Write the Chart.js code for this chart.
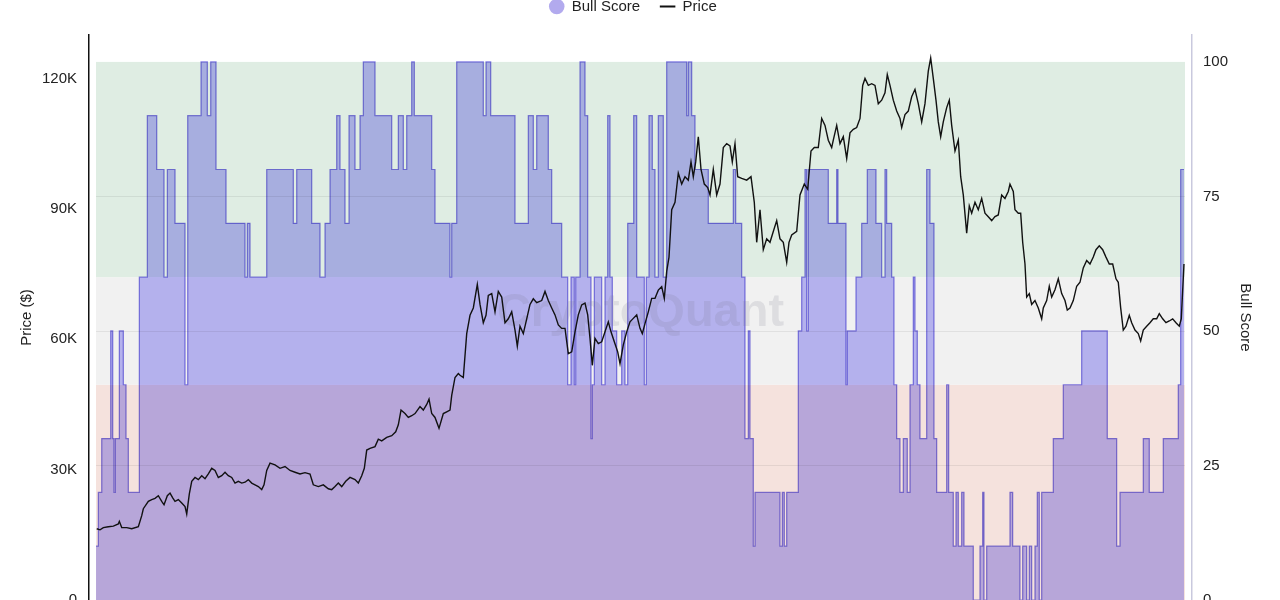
<!DOCTYPE html>
<html>
<head>
<meta charset="utf-8">
<title>Bull Score vs Price</title>
<script src="https://cdn.jsdelivr.net/npm/chart.js@4.4.1/dist/chart.umd.min.js"></script>
<style>
    html, body { margin: 0; padding: 0; background: #fff; overflow: hidden; }
    #wrap { position: absolute; left: 0; top: -21px; width: 1280px; height: 642px; }
</style>
</head>
<body>
<div id="wrap"><canvas id="chart"></canvas></div>
<script>
// Day index (0 = first day shown) and BTC price in thousands of dollars
const pricePts = [
    [0.7, 16.4], [4, 16.15], [7.3, 16.66], [12.3, 16.85], [17.3, 17.0], [22.3, 17.5], [23.3, 18.1],
    [25.7, 16.66], [30.7, 16.66], [35.7, 16.4], [42.3, 16.85], [45.7, 19.4], [47.3, 21.0], [52.3, 22.7],
    [55.7, 23.1], [59, 23.4], [62.3, 24.0], [65.7, 22.7], [68, 21.9], [71.3, 24.0], [74, 24.6],
    [76.7, 23.5], [79, 22.7], [82.3, 23.1], [85.7, 22.3], [89, 21.5], [90.7, 19.8], [93.3, 24.4],
    [95.7, 27.3], [99, 28.2], [102.3, 27.7], [105.7, 28.6], [109, 27.9], [112.3, 29.0], [115.7, 30.3],
    [119, 29.8], [122.3, 28.2], [125.7, 28.6], [129, 29.4], [132.3, 28.6], [135.7, 28.2], [139, 26.9],
    [142.3, 27.3], [145.7, 26.9], [149, 27.1], [152.3, 27.7], [155.7, 26.9], [159, 26.5], [162.3, 26.1],
    [165.7, 25.4], [168, 26.5], [170.7, 29.8], [174, 31.5],
    [179, 31.1], [184, 30.3], [189, 30.7], [194, 29.8], [199, 29.4], [204, 29.0], [209, 29.3],
    [214, 29.0], [217.3, 26.5], [222.3, 26.1], [227.3, 26.5], [232.3, 25.6], [235.7, 25.4], [239, 26.1],
    [242.3, 26.9], [245.7, 26.1], [249.7, 27.3], [254, 28.2], [259, 27.7], [262.3, 26.9], [265.7, 28.6],
    [268.3, 30.3], [270.7, 34.5], [274, 34.9], [279, 35.3], [282.3, 37.0], [285.7, 36.6], [290.7, 37.4],
    [295.7, 37.8], [299.7, 38.7], [302.3, 40.3], [305, 43.7], [309, 42.9], [312.3, 42.0], [315.7, 42.4],
    [319, 42.9], [324, 44.5], [327.3, 43.7], [330.7, 45.0], [333, 46.2], [335.7, 42.9], [339, 42.0],
    [343, 39.5], [347.3, 42.9], [350.7, 43.3], [354, 43.7], [355.7, 47.1], [359, 51.2], [362.3, 52.1],
    [364, 51.7], [367.3, 51.2], [370.7, 61.3], [374, 65.5], [377.3, 67.2], [381.3, 72.6], [384, 68.0],
    [387.3, 63.8], [390, 65.5], [392.3, 70.1], [395.7, 70.5], [399, 66.3], [402.3, 71.0], [405.7, 69.7],
    [409, 63.8], [412.3, 64.7], [415.7, 66.3], [419, 62.1], [421.3, 58.4], [424, 63.0], [427.3, 61.3],
    [430.7, 64.7], [434, 68.0], [437.3, 69.3], [440.7, 68.4], [445.7, 68.9], [449, 71.0], [452.3, 68.9],
    [455.7, 67.2], [459, 65.6], [462.3, 63.3], [465.7, 62.5], [469, 62.5], [472.3, 56.7], [475.7, 57.1],
    [479, 61.7], [482.3, 65.6], [485.7, 67.9], [489, 68.3], [491.7, 65.6], [494, 60.2], [496.3, 54.0],
    [499, 60.2], [502.3, 59.0], [505.7, 59.4], [509, 61.7], [512.3, 64.0], [515, 61.7], [518.3, 59.4],
    [521.7, 57.1], [524, 54.4], [527.3, 58.7], [530.7, 61.7], [534, 64.0], [537.3, 64.8], [540.7, 65.6],
    [544, 62.5], [546.3, 61.3], [549, 63.6], [552.3, 66.3], [555.7, 69.4], [559, 69.4], [562.3, 71.3],
    [565.7, 72.1], [568.3, 69.4], [570.7, 75.6], [573, 78.9], [575.7, 89.8], [579, 91.5], [582.3, 98.2],
    [585.7, 95.7], [589, 97.4], [592.3, 96.6], [595, 100.8], [597.3, 97.4], [599.7, 100.8], [602.3, 106.6],
    [605, 99.1], [608.3, 95.7], [611.7, 94.9], [614, 93.2], [617.3, 99.1], [620.7, 93.2], [624, 95.7],
    [627.3, 104.1], [630.7, 105.0], [634, 104.5], [636.3, 100.8], [639, 105.0], [641.7, 97.4], [645.7, 97.0],
    [650.7, 96.6], [655, 97.4], [658.3, 91.5], [660.7, 82.3], [664, 89.8], [667.3, 80.6], [670.7, 83.1],
    [674, 82.3], [677.3, 84.8], [680.7, 87.3], [684, 83.1], [687.3, 82.3], [690.7, 77.7], [693, 82.3],
    [695.7, 84.0], [700.7, 84.8], [704, 93.2], [708.3, 95.7], [711.7, 94.5], [715, 103.3], [718.3, 104.1],
    [722.3, 104.1], [725.7, 110.8], [729, 109.2], [732.3, 105.8], [735.7, 104.1], [737.3, 105.8], [740.7, 109.2],
    [744, 105.0], [747.3, 106.6], [750.7, 101.6], [754, 107.5], [757.3, 108.3], [760.7, 108.7], [764, 110.8],
    [766.7, 118.4], [769, 120.0], [772.3, 118.4], [775.7, 118.8], [779, 118.4], [782.3, 114.2], [785.7, 115.0],
    [789, 116.7], [791.3, 120.9], [794, 118.4], [797.3, 115.0], [800.7, 112.5], [804, 110.8], [805.7, 108.7],
    [809, 111.7], [812.3, 112.5], [815.7, 115.8], [819, 117.5], [822.3, 114.2], [825.7, 110.0], [829, 114.2],
    [832.3, 121.7], [834.7, 124.7], [837.3, 120.0], [840, 115.0], [842.3, 110.0], [844.7, 106.6], [847.3, 110.0],
    [850.7, 113.3], [853.3, 115.0], [855.7, 109.2], [859, 103.3], [862.3, 105.8], [864.7, 97.4], [867.3, 93.2],
    [870.7, 84.4], [873.3, 90.7], [875.7, 89.0], [879, 91.5], [882.3, 89.8], [885.7, 92.4], [889, 89.0],
    [892.3, 88.2], [895.7, 87.3], [899, 88.2], [902.3, 88.6], [905.7, 93.2], [909, 92.4], [912.3, 94.0],
    [914, 95.7], [917.3, 94.0], [919, 89.8], [922.3, 89.0], [924.7, 89.0], [926.7, 82.3], [929, 77.3],
    [930.7, 69.7], [933.3, 70.5], [935.7, 68.0], [939, 68.9], [942.3, 67.2], [945.7, 64.7], [947.3, 67.2],
    [950.7, 68.9], [953.3, 72.2], [955.7, 69.7], [959, 71.4], [962.3, 73.9], [965.7, 70.5], [969, 68.9],
    [971.3, 66.7], [974, 67.2], [977.3, 68.9], [980.7, 72.2], [984, 73.1], [987.3, 76.4], [990.7, 78.1],
    [994, 77.3], [997.3, 78.9], [1000, 80.6], [1003.3, 81.5], [1006.7, 80.6], [1010, 78.9], [1013.3, 77.3],
    [1016.7, 77.3], [1020, 73.9], [1022.3, 73.1], [1024.7, 67.2], [1027.3, 62.1], [1030, 63.0], [1033.3, 65.5],
    [1035.7, 63.8], [1039, 62.1], [1042.3, 61.3], [1044.7, 59.6], [1047.3, 62.1], [1050.7, 63.0], [1054, 63.8],
    [1057.3, 64.7], [1060.7, 64.7], [1063.3, 65.9], [1066.7, 64.7], [1070, 63.8], [1073.3, 64.2], [1076.7, 64.7],
    [1080, 63.8], [1083.3, 63.0], [1085.3, 64.7], [1088, 77.3],
];

// Bull score steps: [day it starts, score held until the next step]
const scoreSteps = [
    [0, 10], [2.3, 20], [5.7, 30], [14.7, 50], [16.7, 30], [18, 20], [19.3, 30], [23.3, 50], [27.3, 40],
    [30, 30], [32.3, 20], [43.3, 60], [51.3, 90], [60.7, 80], [68, 60], [71.3, 80], [79, 70], [89, 40],
    [91.7, 90], [105, 100], [111.3, 90], [114.7, 100], [120, 80], [130, 70], [149, 60], [151.3, 70],
    [154, 60], [170.7, 80], [197.3, 70], [200.7, 80], [215.7, 70], [224, 60], [229, 70], [234, 80],
    [240.7, 90], [244, 80], [249, 70], [253, 90], [259, 80], [264, 90], [267.3, 100], [279, 90],
    [295.7, 80], [302.3, 90], [307.3, 80], [310.7, 90], [315.7, 100], [318.3, 90], [335.7, 80], [339, 70],
    [354, 60], [355.7, 70], [360.7, 100], [387.3, 90], [390, 100], [394.7, 90], [419, 70], [432.3, 90],
    [437.3, 80], [440.7, 90], [452.3, 80], [455.7, 70], [465.7, 60], [471.7, 40], [475, 60], [478.3, 40],
    [479.7, 60], [484, 100], [489, 90], [491.7, 60], [495, 30], [496.3, 40], [498.3, 60], [505.7, 40],
    [509, 60], [511.7, 90], [514, 60], [516.3, 50], [520.7, 40], [525.7, 50], [529, 40], [531.7, 70],
    [537.7, 90], [540.7, 60], [548.3, 40], [550.3, 60], [553, 90], [556.3, 80], [559, 60], [562.3, 90],
    [567.3, 60], [570.7, 100], [590.7, 90], [592.3, 100], [595.7, 90], [599, 80], [612.3, 70], [637.3, 80],
    [639.7, 70], [645.7, 60], [649, 30], [652.3, 50], [654, 30], [657.3, 10], [659, 20], [684, 10],
    [686.3, 20], [688.3, 10], [690.7, 20], [702.3, 50], [705.7, 60], [709, 80], [710.7, 50], [712.3, 80],
    [732.3, 70], [740.7, 80], [742, 70], [750, 40], [751.3, 50], [760, 60], [765.7, 70], [771.3, 80],
    [780, 70], [785.7, 60], [789, 80], [790.7, 70], [795.7, 60], [798, 40], [800.7, 30], [804, 20],
    [807.3, 30], [811.3, 20], [814, 40], [817.3, 60], [819, 50], [821.3, 40], [824, 30], [830.7, 80],
    [834, 70], [838, 30], [840.7, 20], [850.7, 40], [852.7, 20], [857.3, 10], [860, 20], [862.3, 10],
    [865.7, 20], [868, 10], [877.3, 0], [884, 10], [886.7, 20], [888, 0], [890.7, 10], [914, 20],
    [916.7, 10], [924, 0], [926.7, 10], [930.7, 0], [933.3, 10], [935.7, 0], [939, 10], [941.3, 20],
    [943.3, 0], [945.7, 20], [957.3, 30], [967.3, 40], [985.7, 50], [1011.3, 30], [1020.7, 10], [1024, 20],
    [1047.3, 30], [1053.3, 20], [1067.3, 30], [1082.3, 40], [1084.7, 80], [1088, 80],
];

const priceTicks = [0, 30000, 60000, 90000, 120000];
const scoreTicks = [0, 25, 50, 75, 100];
// Score regimes shaded behind the chart: [from, to]
const bearZone = [0, 40];
const neutralZone = [40, 60];
const bullZone = [60, 100];

const firstDay = 0;
const lastDay = 1089;

const colors = {
    bull: '#dfede3',
    neutral: '#f1f1f1',
    bear: '#f5e2dd',
    grid: 'rgba(0, 0, 0, 0.07)',
    scoreFill: 'rgb(191, 187, 251)',
    scoreLine: 'rgb(140, 132, 232)',
    scoreLegend: 'rgb(178, 170, 238)',
    price: '#111',
    text: '#222',
};

// Shaded regimes, faint score grid, watermark; score area is multiplied over the shading
const zonesPlugin = {
    id: 'zones',
    beforeDatasetsDraw(chart) {
        const { ctx, scales } = chart;
        const x = scales.x, y1 = scales.y1;
        const left = x.getPixelForValue(firstDay);
        const right = x.getPixelForValue(lastDay);
        ctx.save();
        [[bearZone, colors.bear], [neutralZone, colors.neutral], [bullZone, colors.bull]].forEach(([z, c]) => {
            const top = y1.getPixelForValue(z[1]);
            const bottom = y1.getPixelForValue(z[0]);
            ctx.fillStyle = c;
            ctx.fillRect(left, top, right - left, bottom - top);
        });
        ctx.strokeStyle = colors.grid;
        ctx.lineWidth = 1;
        [25, 50, 75].forEach(v => {
            const py = Math.round(y1.getPixelForValue(v)) + 0.5;
            ctx.beginPath();
            ctx.moveTo(left, py);
            ctx.lineTo(right, py);
            ctx.stroke();
        });
        ctx.restore();
        // the score area (drawn first) is blended with multiply
        ctx.save();
        ctx.globalCompositeOperation = 'multiply';
    },
    afterDatasetDraw(chart, args) {
        if (args.index !== 0) return;
        const ctx = chart.ctx;
        ctx.restore();
        const area = chart.chartArea;
        ctx.save();
        ctx.font = '600 47px "Liberation Sans", Arial, sans-serif';
        ctx.fillStyle = 'rgba(120, 120, 135, 0.16)';
        ctx.textAlign = 'center';
        ctx.textBaseline = 'middle';
        ctx.fillText('CryptoQuant', (area.left + area.right) / 2, chart.scales.y1.getPixelForValue(50) - 18);
        ctx.restore();
    },
};

// Extra gap under the legend
const legendGap = {
    id: 'legendGap',
    beforeInit(chart) {
        const fit = chart.legend.fit;
        chart.legend.fit = function () {
            fit.bind(chart.legend)();
            this.height += 11;
        };
    },
};

const axisFont = { family: '"Liberation Sans", Arial, sans-serif', size: 15 };

new Chart(document.getElementById('chart'), {
    type: 'line',
    data: {
        datasets: [
            {
                label: 'Bull Score',
                data: scoreSteps.map(([d, v]) => ({ x: d, y: v })),
                yAxisID: 'y1',
                stepped: 'before',
                fill: 'origin',
                backgroundColor: colors.scoreFill,
                borderColor: colors.scoreLine,
                borderWidth: 1.2,
                pointRadius: 0,
                pointStyle: 'circle',
                pointBackgroundColor: colors.scoreLegend,
                pointBorderColor: colors.scoreLegend,
                pointBorderWidth: 0,
                order: 1,
            },
            {
                label: 'Price',
                data: pricePts.map(([d, k]) => ({ x: d, y: k * 1000 })),
                yAxisID: 'y',
                borderColor: colors.price,
                borderWidth: 1.4,
                tension: 0,
                fill: false,
                pointRadius: 0,
                pointStyle: 'line',
                pointBorderColor: colors.price,
                pointBorderWidth: 2,
                order: 0,
            },
        ],
    },
    options: {
        responsive: true,
        maintainAspectRatio: false,
        animation: false,
        layout: { padding: { left: 8, right: 22, top: 0, bottom: 20 } },
        plugins: {
            legend: {
                display: true,
                position: 'top',
                labels: {
                    usePointStyle: true,
                    boxWidth: 15,
                    boxHeight: 11,
                    padding: 20,
                    color: colors.text,
                    font: axisFont,
                    sort: (a, b) => a.datasetIndex - b.datasetIndex,
                },
            },
            tooltip: { enabled: false },
        },
        scales: {
            x: {
                type: 'linear',
                min: -7,
                max: 1096,
                display: false,
            },
            y: {
                position: 'left',
                min: 0,
                max: 130000,
                afterBuildTicks: (axis) => { axis.ticks = priceTicks.map(v => ({ value: v })); },
                grid: { display: false, drawTicks: false },
                border: { display: true, color: '#111', width: 1.5 },
                ticks: {
                    color: colors.text,
                    font: axisFont,
                    padding: 12,
                    callback: (v) => (v === 0 ? '0' : (v / 1000) + 'K'),
                },
                title: {
                    display: true,
                    text: 'Price ($)',
                    color: colors.text,
                    font: axisFont,
                    padding: { top: 10, bottom: -6 },
                },
            },
            y1: {
                position: 'right',
                min: 0,
                max: 105,
                afterBuildTicks: (axis) => { axis.ticks = scoreTicks.map(v => ({ value: v })); },
                grid: { display: false, drawTicks: false },
                border: { display: true, color: '#c9c9de', width: 1.5 },
                ticks: {
                    color: colors.text,
                    font: axisFont,
                    padding: 11,
                },
                title: {
                    display: true,
                    text: 'Bull Score',
                    color: colors.text,
                    font: axisFont,
                    padding: { top: 4, bottom: -3 },
                },
            },
        },
    },
    plugins: [zonesPlugin, legendGap],
});
</script>
</body>
</html>
